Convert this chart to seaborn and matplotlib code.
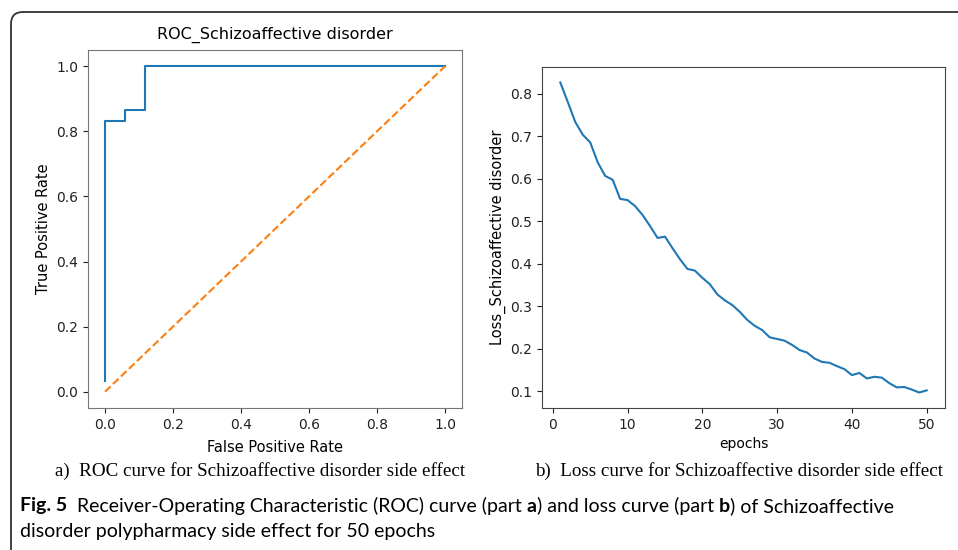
import matplotlib
matplotlib.use("Agg")
import matplotlib.pyplot as plt
from matplotlib.patches import FancyBboxPatch
import seaborn as sns
import numpy as np
import pandas as pd

# ---------------- data ----------------
roc_fpr = [0.0, 0.0, 0.0588, 0.0588, 0.1176, 0.1176, 1.0]
roc_tpr = [0.0333, 0.8333, 0.8333, 0.8667, 0.8667, 1.0, 1.0]
diag_x = [0.0, 1.0]
diag_y = [0.0, 1.0]

epochs = list(range(1, 51))
loss = [0.827, 0.781, 0.734, 0.704, 0.686, 0.639, 0.607, 0.598, 0.553, 0.550,
        0.536, 0.515, 0.489, 0.461, 0.464, 0.437, 0.411, 0.388, 0.384, 0.367,
        0.352, 0.328, 0.314, 0.303, 0.287, 0.268, 0.254, 0.244, 0.227, 0.223,
        0.219, 0.209, 0.197, 0.191, 0.177, 0.169, 0.167, 0.159, 0.152, 0.138,
        0.143, 0.130, 0.134, 0.132, 0.119, 0.109, 0.110, 0.104, 0.097, 0.102]

roc_title = "ROC_Schizoaffective disorder"
roc_xlabel = "False Positive Rate"
roc_ylabel = "True Positive Rate"
loss_xlabel = "epochs"
loss_ylabel = "Loss_Schizoaffective disorder"
cap_a = "a)  ROC curve for Schizoaffective disorder side effect"
cap_b = "b)  Loss curve for Schizoaffective disorder side effect"
fig_caption_1 = [("Fig. 5", "bold"), ("  Receiver-Operating Characteristic (ROC) curve (part ", "normal"),
                 ("a", "bold"), (") and loss curve (part ", "normal"), ("b", "bold"),
                 (") of Schizoaffective", "normal")]
fig_caption_2 = "disorder polypharmacy side effect for 50 epochs"

# ---------------- figure ----------------
W, H = 958, 550
fig = plt.figure(figsize=(W / 100, H / 100), dpi=100)
fig.patch.set_facecolor("white")

bg = fig.add_axes([0, 0, 1, 1], zorder=-1)
bg.set_xlim(0, W)
bg.set_ylim(H, 0)
bg.axis("off")
bg.add_patch(FancyBboxPatch((11, 12), 1000, 600, boxstyle="round,pad=0,rounding_size=12",
                            fill=False, ec="#333333", lw=1.3))

spine_col = "#444444"
blue = "#1f77b4"
orange = "#ff7f0e"

# ---- left: ROC ----
axL = fig.add_axes([88 / W, 1 - 408 / H, 374 / W, 358 / H])
roc_df = pd.DataFrame({"fpr": roc_fpr, "tpr": roc_tpr})
sns.lineplot(data=roc_df, x="fpr", y="tpr", estimator=None, sort=False, color=blue, lw=1.5, ax=axL)
sns.lineplot(x=diag_x, y=diag_y, estimator=None, sort=False, color=orange, lw=1.5,
             linestyle="--", ax=axL)
axL.set_xlim(-0.05, 1.05)
axL.set_ylim(-0.05, 1.05)
axL.set_xticks([0.0, 0.2, 0.4, 0.6, 0.8, 1.0])
axL.set_yticks([0.0, 0.2, 0.4, 0.6, 0.8, 1.0])
axL.tick_params(labelsize=10, colors="#222222")
axL.set_title(roc_title, fontsize=11.5, pad=8)
axL.set_xlabel(roc_xlabel, fontsize=10.5, labelpad=6)
axL.set_ylabel(roc_ylabel, fontsize=10.5)
axL.yaxis.set_label_coords(-0.099, 0.5)
for s in axL.spines.values():
    s.set_color("#777777")

# ---- right: loss ----
axR = fig.add_axes([542 / W, 1 - 408 / H, 403 / W, 341 / H])
loss_df = pd.DataFrame({"epoch": epochs, "loss": loss})
sns.lineplot(data=loss_df, x="epoch", y="loss", color=blue, lw=1.5, ax=axR)
axR.set_xticks([0, 10, 20, 30, 40, 50])
axR.set_yticks([0.1, 0.2, 0.3, 0.4, 0.5, 0.6, 0.7, 0.8])
axR.tick_params(labelsize=10, colors="#222222")
axR.set_xlabel(loss_xlabel, fontsize=10, labelpad=4)
axR.set_ylabel(loss_ylabel, fontsize=10.5)
axR.yaxis.set_label_coords(-0.09, 0.5)
for s in axR.spines.values():
    s.set_color(spine_col)

# ---- captions ----
bg.text(55, 471, cap_a, fontsize=13.7, family="Liberation Serif", va="center", ha="left")
bg.text(535, 471, cap_b, fontsize=13.7, family="Liberation Serif", va="center", ha="left")

fig.canvas.draw()
r = fig.canvas.get_renderer()
x = 20
for s, w in fig_caption_1:
    t = bg.text(x, 506, s, fontsize=14, family="Lato", fontweight=w, va="center", ha="left")
    x += t.get_window_extent(r).width
bg.text(20, 532, fig_caption_2, fontsize=14, family="Lato", va="center", ha="left")

fig.savefig("out.png", dpi=100)
